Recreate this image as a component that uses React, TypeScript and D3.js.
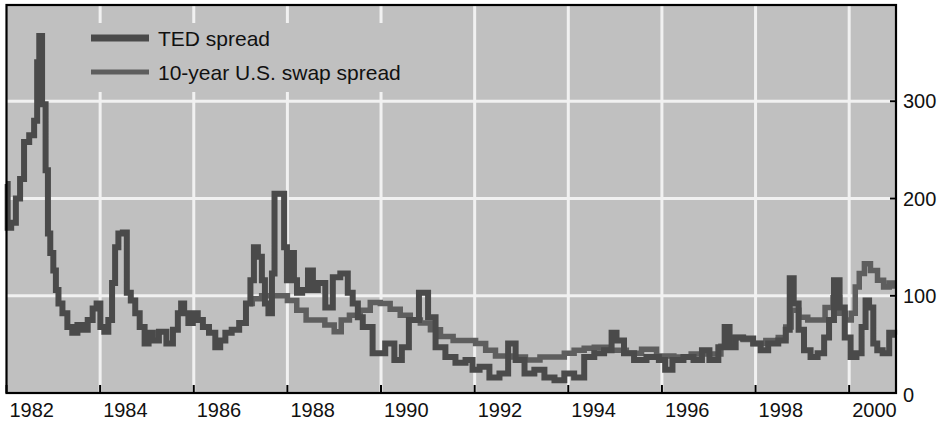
import React from "react";
import * as d3 from "d3";

const tedYears = [1982.0,1982.05,1982.15,1982.25,1982.33,1982.42,1982.55,1982.63,1982.68,1982.72,1982.8,1982.87,1982.9,1982.97,1983.03,1983.08,1983.14,1983.25,1983.35,1983.46,1983.57,1983.68,1983.79,1983.89,1983.96,1984.05,1984.13,1984.22,1984.29,1984.35,1984.43,1984.54,1984.6,1984.71,1984.79,1984.9,1985.0,1985.07,1985.18,1985.33,1985.5,1985.61,1985.71,1985.75,1985.84,1985.93,1986.03,1986.14,1986.25,1986.4,1986.52,1986.61,1986.74,1986.88,1987.06,1987.17,1987.25,1987.32,1987.42,1987.49,1987.55,1987.64,1987.7,1987.75,1987.9,1987.96,1988.02,1988.11,1988.17,1988.24,1988.39,1988.49,1988.6,1988.7,1988.92,1989.02,1989.24,1989.34,1989.45,1989.56,1989.66,1989.98,1990.2,1990.37,1990.52,1990.67,1990.95,1991.06,1991.27,1991.48,1991.7,1991.91,1992.0,1992.21,1992.42,1992.64,1992.79,1992.96,1993.17,1993.38,1993.6,1993.81,1994.02,1994.23,1994.45,1994.66,1994.87,1994.98,1995.08,1995.3,1995.51,1995.83,1996.04,1996.1,1996.35,1996.57,1996.78,1996.93,1997.1,1997.31,1997.37,1997.52,1997.63,1997.84,1998.06,1998.16,1998.38,1998.59,1998.7,1998.76,1998.87,1998.97,1999.1,1999.25,1999.4,1999.53,1999.61,1999.74,1999.85,1999.96,2000.1,2000.21,2000.32,2000.38,2000.47,2000.56,2000.64,2000.79,2000.92,2001.0];
const tedValues = [215,170,175,200,220,258,265,280,340,367,297,229,164,144,126,106,92,82,68,62,70,65,75,87,92,68,63,75,113,150,164,165,103,95,82,68,51,62,54,63,51,65,82,92,82,72,82,75,68,62,47,54,62,65,72,92,116,150,140,116,92,82,123,205,205,150,116,144,116,103,106,126,106,113,88,119,123,103,92,78,68,41,51,34,47,75,103,78,47,37,31,34,24,27,16,20,51,34,20,24,16,13,20,16,37,41,44,62,54,41,34,37,34,24,34,37,34,44,34,47,68,47,57,56,51,44,51,54,65,118,92,65,44,37,41,57,75,116,88,57,37,41,68,95,88,51,44,41,62,60];

const swapYears = [1987.2,1987.3,1987.6,1987.9,1988.1,1988.3,1988.5,1988.7,1988.9,1989.1,1989.2,1989.45,1989.66,1989.88,1990.09,1990.3,1990.52,1990.73,1990.95,1991.16,1991.38,1991.7,1991.91,1992.13,1992.34,1992.55,1992.98,1993.19,1993.6,1993.81,1994.02,1994.23,1994.45,1994.66,1995.08,1995.4,1995.73,1996.04,1996.47,1996.78,1997.1,1997.42,1997.63,1997.84,1998.06,1998.38,1998.59,1998.7,1998.82,1999.03,1999.2,1999.4,1999.57,1999.74,1999.85,1999.99,2000.1,2000.16,2000.27,2000.38,2000.53,2000.68,2000.79,2000.92,2001.0];
const swapValues = [92,97,100,100,95,85,75,75,70,63,75,80,85,93,92,86,80,75,72,65,58,54,54,51,44,38,37,34,37,37,41,44,46,47,44,41,45,38,37,40,40,48,57,55,51,54,57,68,85,78,75,75,88,98,82,75,82,109,123,133,126,116,109,113,110];

const xTicks = [1982,1984,1986,1988,1990,1992,1994,1996,1998,2000];
const yTicks = [0,100,200,300];
const legendLabels = ["TED spread","10-year U.S. swap spread"];

export default function App() {
  const W = 943, H = 421;
  const left = 6.5, right = 896, top = 5, bottom = 393;
  const x = d3.scaleLinear().domain([1982, 2001]).range([left, right]);
  const y = d3.scaleLinear().domain([0, 399]).range([bottom, top]);
  const line = d3.line<[number, number]>().x(d => x(d[0])).y(d => y(d[1])).curve(d3.curveStep);
  const ted = line(tedYears.map((t, i) => [t, tedValues[i]] as [number, number])) || "";
  const swap = line(swapYears.map((t, i) => [t, swapValues[i]] as [number, number])) || "";
  const font = "Liberation Sans, Arial, sans-serif";
  const bg = "#c0c0c0";
  const grid = "#f1f1f1";
  return (
    <svg width={W} height={H} style={{ position: "absolute", left: 0, top: 0 }}>
      <rect x={left} y={top} width={right - left} height={bottom - top} fill={bg} />
      {xTicks.filter(t => t > 1982).map(t => (
        <line key={"gx" + t} x1={x(t)} x2={x(t)} y1={top} y2={bottom} stroke={grid} strokeWidth={3} />
      ))}
      {yTicks.filter(t => t > 0).map(t => (
        <line key={"gy" + t} x1={left} x2={right} y1={y(t)} y2={y(t)} stroke={grid} strokeWidth={3} />
      ))}
      <rect x={12} y={23} width={408} height={69} fill={bg} />
      <g fontFamily={font} fontSize={21} fill="#111">
        <line x1={91} x2={149} y1={38} y2={38} stroke="#4a4a4a" strokeWidth={7} />
        <text x={158} y={46}>{legendLabels[0]}</text>
        <line x1={91} x2={149} y1={72} y2={72} stroke="#5e5e5e" strokeWidth={5} />
        <text x={158} y={80}>{legendLabels[1]}</text>
      </g>
      <path d={swap} fill="none" stroke="#5e5e5e" strokeWidth={5.5} strokeLinejoin="miter" />
      <path d={ted} fill="none" stroke="#4a4a4a" strokeWidth={6} strokeLinejoin="miter" />
      <rect x={left} y={top} width={right - left} height={bottom - top} fill="none" stroke="#000" strokeWidth={2.2} />
      {xTicks.map(t => (
        <g key={"xt" + t}>
          <line x1={x(t)} x2={x(t)} y1={bottom} y2={bottom - 8} stroke="#000" strokeWidth={2} />
          <text x={x(t) + 3} y={417} fontFamily={font} fontSize={20} fill="#111">{t}</text>
        </g>
      ))}
      {yTicks.map(t => (
        <g key={"yt" + t}>
          <line x1={right} x2={right - 6} y1={y(t)} y2={y(t)} stroke="#000" strokeWidth={2} />
          <text x={903} y={y(t) + (t === 0 ? 2 : 0)} dy="0.35em" fontFamily={font} fontSize={20} fill="#111">{t}</text>
        </g>
      ))}
    </svg>
  );
}
